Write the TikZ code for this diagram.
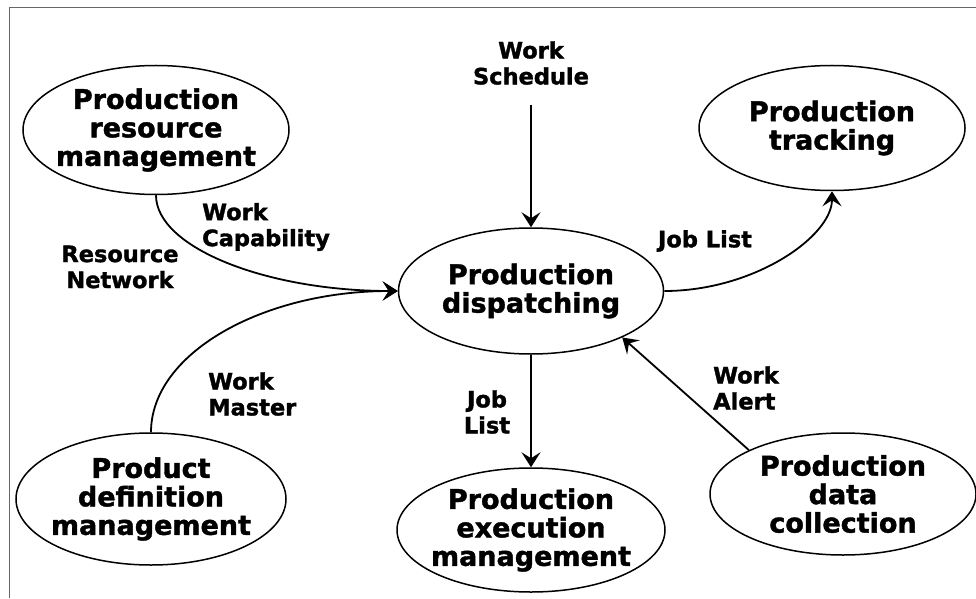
\documentclass[tikz,border=0pt]{standalone}
\usepackage{fontspec}
\setmainfont{DejaVu Sans}
\newfontfamily\heavy{DejaVu Sans Bold}[FakeBold=1.5]
\usetikzlibrary{shapes.geometric,arrows.meta}
\begin{document}
\begin{tikzpicture}[x=1pt,y=1pt,
  proc/.style={ellipse, draw, line width=1.5pt, inner sep=-25pt, align=center,
    font=\fontsize{27}{28.5}\selectfont\heavy},
  lbl/.style={inner sep=0pt, font=\fontsize{22.5}{26}\selectfont\heavy},
  flow/.style={line width=1.8pt, -{Stealth[length=15pt, width=19pt, inset=6pt]}}
]
\useasboundingbox (0,0) rectangle (976,598);
\draw[line width=1pt, color=black!60] (9,0) -- (9,590) -- (976,590);

\node[proc, minimum width=266pt, minimum height=129pt] (prm) at (156,468) {Production\\resource\\management};
\node[proc, minimum width=266pt, minimum height=125pt] (pt) at (832,470) {Production\\tracking};
\node[proc, minimum width=265pt, minimum height=126pt] (pd) at (531,307) {Production\\dispatching};
\node[proc, minimum width=270pt, minimum height=132pt] (pdm) at (151,99) {Product\\definition\\management};
\node[proc, minimum width=268pt, minimum height=124pt] (pem) at (531,68) {Production\\execution\\management};
\node[proc, minimum width=266pt, minimum height=122pt] (pdc) at (843,104) {Production\\data\\collection};

\node[lbl, align=center] (lws) at (531,535) {Work\\Schedule};
\node[lbl, align=left, anchor=west] (lwc) at (202,371) {Work\\Capability};
\node[lbl, align=center] (lrn) at (120,331) {Resource\\Network};
\node[lbl, align=left, anchor=west] (lwm) at (208,204) {Work\\Master};
\node[lbl, align=center] (ljl) at (487,186) {Job\\List};
\node[lbl] (ljl2) at (705,357) {Job List};
\node[lbl, align=left, anchor=west] (lwa) at (713,210) {Work\\Alert};

\coordinate (ws) at (531,493);
\draw[flow] (ws) -- (pd.north);
\draw[flow] (prm.south) to[out=-90, in=180, out distance=52pt, in distance=132pt] (pd.west);
\draw[flow] (pdm.north) to[out=90, in=180, out distance=79pt, in distance=135pt] (pd.west);
\draw[flow] (pd.east) to[out=0, in=-90, out distance=90pt, in distance=45pt] (pt.south);
\draw[flow] (pd.south) -- (pem.north);
\draw[flow] (pdc.155) -- (pd.-27);
\end{tikzpicture}
\end{document}
